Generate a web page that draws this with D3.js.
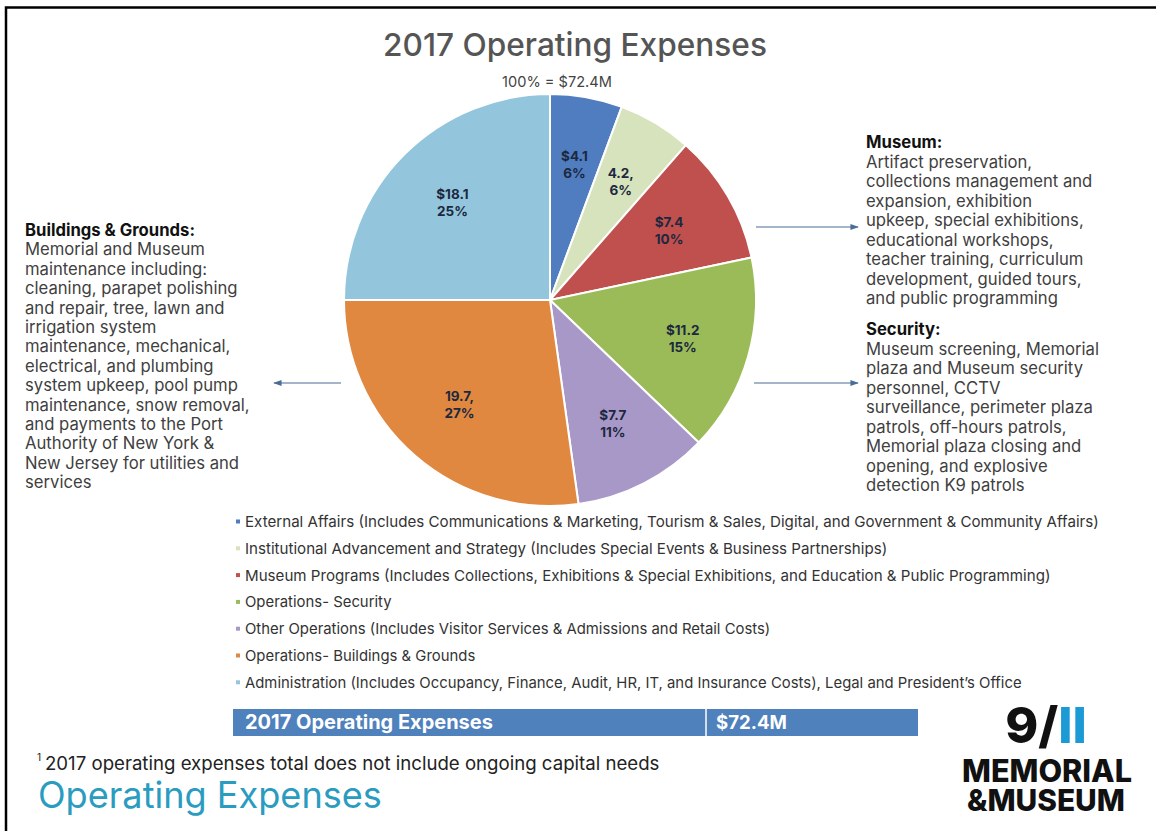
<!DOCTYPE html>
<html><head><meta charset="utf-8">
<script src="https://cdn.jsdelivr.net/npm/d3@7"></script>
<style>body{margin:0;background:#fff}svg{display:block}</style>
</head><body><svg id="c" width="1156" height="831"></svg>
<script>
// ---------- data ----------
const categories = ["External Affairs","Institutional Advancement and Strategy","Museum Programs","Operations- Security","Other Operations","Operations- Buildings & Grounds","Administration"];
const values = [4.1, 4.2, 7.4, 11.2, 7.7, 19.7, 18.1];
const valueLabels = ["$4.1","4.2,","$7.4","$11.2","$7.7","19.7,","$18.1"];
const percentLabels = ["6%","6%","10%","15%","11%","27%","25%"];
const legendLabels = [
  "External Affairs (Includes Communications & Marketing, Tourism & Sales, Digital, and Government & Community Affairs)",
  "Institutional Advancement and Strategy (Includes Special Events & Business Partnerships)",
  "Museum Programs (Includes Collections, Exhibitions & Special Exhibitions, and Education & Public Programming)",
  "Operations- Security",
  "Other Operations (Includes Visitor Services & Admissions and Retail Costs)",
  "Operations- Buildings & Grounds",
  "Administration (Includes Occupancy, Finance, Audit, HR, IT, and Insurance Costs), Legal and President’s Office"
];
const titleText = "2017 Operating Expenses";
const totalText = "100% = $72.4M";
const totalValue = "$72.4M";
const museumHead = "Museum:";
const museumLines = ["Artifact preservation,","collections  management and","expansion, exhibition","upkeep, special exhibitions,","educational workshops,","teacher training, curriculum","development, guided tours,","and public programming"];
const securityHead = "Security:";
const securityLines = ["Museum screening, Memorial","plaza and Museum security","personnel, CCTV","surveillance, perimeter plaza","patrols, off-hours patrols,","Memorial plaza closing and","opening, and explosive","detection K9 patrols"];
const buildingsHead = "Buildings & Grounds:";
const buildingsLines = ["Memorial and Museum","maintenance including:","cleaning, parapet polishing","and repair, tree, lawn and","irrigation system","maintenance, mechanical,","electrical, and plumbing","system upkeep, pool pump","maintenance, snow removal,","and payments to the Port","Authority of New York &","New Jersey for utilities and","services"];
const footnote = "2017 operating expenses total does not include ongoing capital needs";
const pageTitle = "Operating Expenses";

// ---------- styles ----------
const palette = ["#4f7dbf","#d7e3bc","#c0504d","#9bbb59","#a898c8","#e0883f","#93c6dc"];
const FONT = "Inter, 'Open Sans', sans-serif";
const svg = d3.select("#c");

function fitSize(text, family, weight, base, target){
  const t = svg.append("text").attr("font-family",family).attr("font-weight",weight).attr("font-size",base).text(text);
  const w = t.node().getComputedTextLength(); t.remove();
  return base*target/w;
}

// frame
svg.append("path").attr("d","M6,831V7.5H1156").attr("fill","none").attr("stroke","#000").attr("stroke-width",2.5);

// title
svg.append("text").attr("x",575).attr("y",56).attr("text-anchor","middle")
  .attr("font-family",FONT).attr("font-weight",500).attr("fill","#555")
  .attr("font-size",fitSize(titleText,FONT,500,28,384)).text(titleText);
svg.append("text").attr("x",557).attr("y",87).attr("text-anchor","middle")
  .attr("font-family",FONT).attr("fill","#444")
  .attr("font-size",fitSize(totalText,FONT,400,12,110)).text(totalText);

// pie
const cx = 550, cy = 300, R = 206;
const arcs = d3.pie().sort(null).value(d=>d)(values);
const arc = d3.arc().innerRadius(0).outerRadius(R);
const labelArc = d3.arc().innerRadius(138).outerRadius(138);
const g = svg.append("g").attr("transform",`translate(${cx},${cy})`);
g.selectAll("path").data(arcs).join("path")
  .attr("d",arc).attr("fill",(d,i)=>palette[i]).attr("stroke","#fff").attr("stroke-width",2);
const lab = g.selectAll("g.lab").data(arcs).join("g").attr("class","lab")
  .attr("transform",d=>`translate(${labelArc.centroid(d)})`);
lab.append("text").attr("y",-3).attr("text-anchor","middle").attr("font-family",FONT).attr("font-weight",700)
  .attr("font-size",13.5).attr("fill","#1d2840").text((d,i)=>valueLabels[i]);
lab.append("text").attr("y",14).attr("text-anchor","middle").attr("font-family",FONT).attr("font-weight",700)
  .attr("font-size",13.5).attr("fill","#1d2840").text((d,i)=>percentLabels[i]);

// arrows
const defs = svg.append("defs");
defs.append("marker").attr("id","ah").attr("viewBox","0 0 10 10").attr("refX",9).attr("refY",5)
  .attr("markerWidth",7).attr("markerHeight",7).attr("orient","auto-start-reverse")
  .append("path").attr("d","M0,1.5L10,5L0,8.5z").attr("fill","#4a6d96");
function arrow(x1,y,x2){
  svg.append("line").attr("x1",x1).attr("y1",y).attr("x2",x2).attr("y2",y)
    .attr("stroke","#4a6d96").attr("stroke-width",1.2).attr("marker-end","url(#ah)");
}
arrow(756,227,858);
arrow(754,383,858);
arrow(341,383,274);

// text blocks
const bodySize = fitSize("Museum screening, Memorial",FONT,400,13,233);
function block(x,y,head,lines,lh){
  const t = svg.append("text").attr("font-family",FONT).attr("fill","#404040").attr("font-size",bodySize);
  t.append("tspan").attr("x",x).attr("y",y).attr("font-weight",700).attr("fill","#111").text(head);
  lines.forEach((l,i)=>t.append("tspan").attr("x",x).attr("y",y+(i+1)*lh).text(l));
}
block(866,148,museumHead,museumLines,19.5);
block(866,335,securityHead,securityLines,19.5);
block(25,236,buildingsHead,buildingsLines,19.4);

// legend
const legSizeA = fitSize(legendLabels[0],FONT,400,13,855);
const legSizeB = fitSize(legendLabels[6],FONT,400,13,777);
const leg = svg.append("g").selectAll("g").data(legendLabels).join("g")
  .attr("transform",(d,i)=>`translate(236,${522+i*26.8})`);
leg.append("rect").attr("x",0).attr("y",-2.5).attr("width",4).attr("height",4).attr("fill",(d,i)=>palette[i]);
leg.append("text").attr("x",9).attr("y",5).attr("font-family",FONT).attr("fill","#333")
  .attr("font-size",(d,i)=>i<3?legSizeA:legSizeB).text(d=>d);

// total bar
svg.append("rect").attr("x",233).attr("y",709).attr("width",685).attr("height",27).attr("fill","#4f81bd");
svg.append("line").attr("x1",706).attr("x2",706).attr("y1",709).attr("y2",736).attr("stroke","#fff").attr("stroke-width",1.5);
svg.append("text").attr("x",245).attr("y",729).attr("font-family",FONT).attr("font-weight",700).attr("fill","#fff")
  .attr("font-size",fitSize(titleText,FONT,700,15,248)).text(titleText);
svg.append("text").attr("x",716).attr("y",729).attr("font-family",FONT).attr("font-weight",700).attr("fill","#fff")
  .attr("font-size",fitSize(totalValue,FONT,700,15,71)).text(totalValue);

// footnote
svg.append("text").attr("x",37).attr("y",761).attr("font-family",FONT).attr("font-size",10).attr("fill","#222").text("1");
svg.append("text").attr("x",45).attr("y",770).attr("font-family",FONT).attr("fill","#222")
  .attr("font-size",fitSize(footnote,FONT,400,15,615)).text(footnote);
svg.append("text").attr("x",38).attr("y",808).attr("font-family",FONT).attr("font-weight",400).attr("fill","#2a9cc0")
  .attr("font-size",fitSize(pageTitle,FONT,400,30,344)).text(pageTitle);

// logo
const lg = svg.append("text").attr("x",1046).attr("y",743).attr("text-anchor","middle")
  .attr("font-family",FONT).attr("font-weight",800).attr("font-size",50).attr("fill","#111");
lg.append("tspan").text("9/");
lg.append("tspan").attr("fill","#1b9ad6").text("II");
svg.append("text").attr("x",1047).attr("y",782).attr("text-anchor","middle").attr("font-family",FONT).attr("font-weight",800)
  .attr("fill","#111").attr("font-size",fitSize("MEMORIAL",FONT,800,28,170)).text("MEMORIAL");
svg.append("text").attr("x",1046).attr("y",811).attr("text-anchor","middle").attr("font-family",FONT).attr("font-weight",800)
  .attr("fill","#111").attr("font-size",fitSize("&MUSEUM",FONT,800,28,158)).text("&MUSEUM");
</script></body></html>
